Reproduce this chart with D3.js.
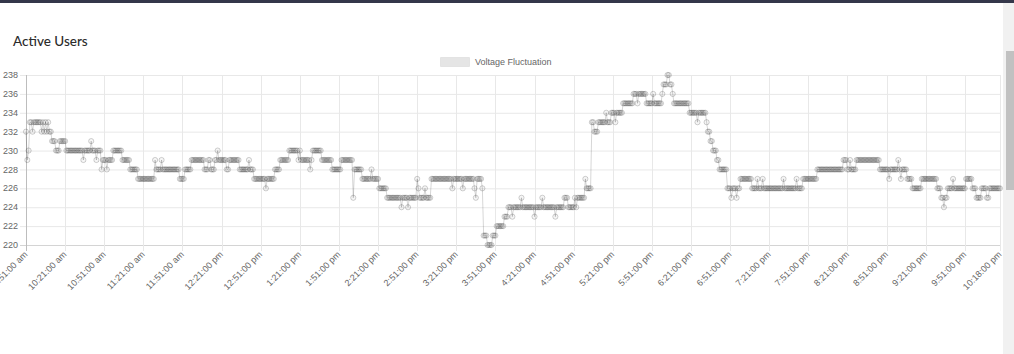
<!DOCTYPE html>
<html>
<head>
<meta charset="utf-8">
<script src="https://cdn.jsdelivr.net/npm/d3@7"></script>
<style>
  body { margin: 0; background: #fff; overflow: hidden; }
  svg { display: block; }
</style>
</head>
<body>
<svg id="chart" width="1014" height="354"></svg>
<script>
// Data
const TITLE = 'Active Users';
const SERIES_NAME = 'Voltage Fluctuation';
const START_TIME = '9:51:00 am';
const POINT_COUNT = 748; // one reading per minute, 9:51 am .. 10:18 pm

const yTicks = [220, 222, 224, 226, 228, 230, 232, 234, 236, 238];

const tickLabels = [
  '9:51:00 am', '10:21:00 am', '10:51:00 am', '11:21:00 am', '11:51:00 am',
  '12:21:00 pm', '12:51:00 pm', '1:21:00 pm', '1:51:00 pm', '2:21:00 pm',
  '2:51:00 pm', '3:21:00 pm', '3:51:00 pm', '4:21:00 pm', '4:51:00 pm',
  '5:21:00 pm', '5:51:00 pm', '6:21:00 pm', '6:51:00 pm', '7:21:00 pm',
  '7:51:00 pm', '8:21:00 pm', '8:51:00 pm', '9:21:00 pm', '9:51:00 pm',
  '10:18:00 pm'
];

// [minute index where the reading changes, new reading]
const voltageChanges = [
  [0,232],[1,229],[2,230],[3,233],[5,232],[6,233],[12,232],[13,233],[14,232],[15,233],
  [16,232],[17,233],[18,232],[20,231],[23,230],[26,231],[31,230],[44,229],[45,230],[50,231],
  [51,230],[54,229],[55,230],[58,228],[59,229],[62,228],[63,229],[67,230],[74,229],[80,228],
  [86,227],[99,229],[100,228],[104,229],[105,228],[118,227],[122,228],[127,229],[137,228],[140,229],
  [142,228],[145,229],[147,230],[148,229],[154,228],[156,229],[164,228],[171,229],[172,228],[175,227],
  [184,226],[185,227],[191,228],[195,229],[202,230],[209,229],[210,230],[211,229],[218,228],[219,229],
  [220,230],[227,229],[235,228],[242,229],[251,225],[252,228],[258,227],[265,228],[266,227],[271,226],
  [277,225],[288,224],[289,225],[293,224],[294,225],[300,227],[301,226],[302,225],[306,226],[307,225],
  [311,227],[327,226],[328,227],[335,226],[336,227],[344,226],[345,225],[346,227],[350,226],[351,221],
  [354,220],[358,221],[361,222],[367,223],[370,224],[373,223],[374,224],[380,225],[381,224],[390,223],
  [391,224],[396,225],[397,224],[406,223],[407,224],[413,225],[416,224],[421,225],[422,224],[423,225],
  [429,227],[430,226],[434,233],[436,232],[439,233],[445,234],[446,233],[449,234],[452,233],[453,234],
  [458,235],[466,236],[469,235],[470,236],[476,235],[481,236],[482,235],[488,236],[489,237],[492,238],
  [494,237],[496,236],[497,235],[509,234],[515,233],[516,234],[522,233],[523,232],[525,231],[527,230],
  [530,229],[532,228],[538,226],[541,225],[542,226],[545,225],[546,226],[548,227],[557,226],[561,227],
  [562,226],[565,227],[566,226],[581,227],[582,226],[591,227],[592,226],[596,227],[607,228],[627,229],
  [630,228],[632,229],[633,228],[637,229],[655,228],[662,227],[663,228],[669,229],[670,228],[671,227],
  [672,228],[676,227],[680,226],[687,227],[699,226],[702,225],[704,224],[705,225],[707,226],[711,227],
  [712,226],[721,227],[726,226],[729,225],[733,226],[737,225],[739,226]
];

// Build per-minute points
const parseTime = d3.timeParse('%I:%M:%S %p');
const fmtTime = d3.timeFormat('%-I:%M:%S %p');
const t0 = parseTime(START_TIME);
const points = [];
let k = 0;
for (let i = 0; i < POINT_COUNT; i++) {
  while (k + 1 < voltageChanges.length && voltageChanges[k + 1][0] <= i) k++;
  points.push({
    label: fmtTime(d3.timeMinute.offset(t0, i)).toLowerCase(),
    value: voltageChanges[k][1]
  });
}

// Layout
const W = 1014, H = 354;
const MARGIN = { top: 75, right: 14, bottom: 109, left: 26 };

const svg = d3.select('#chart');

// top bar + scrollbar chrome
svg.append('rect').attr('x', 0).attr('y', 0).attr('width', W).attr('height', 3).attr('fill', '#34374a');
svg.append('rect').attr('x', 1003).attr('y', 3).attr('width', 11).attr('height', H - 3).attr('fill', '#f1f1f1');
svg.append('rect').attr('x', 1006).attr('y', 51).attr('width', 8).attr('height', 139).attr('fill', '#c1c1c1');

// title
svg.append('text')
  .attr('x', 13).attr('y', 46)
  .attr('font-family', 'Lato, "Noto Sans", sans-serif')
  .attr('font-size', 13.5)
  .attr('font-weight', 500)
  .attr('fill', '#2b2b2b')
  .text(TITLE);

const x = d3.scalePoint()
  .domain(points.map(d => d.label))
  .range([MARGIN.left, W - MARGIN.right]);

const y = d3.scaleLinear()
  .domain([220, 238])
  .range([H - MARGIN.bottom, MARGIN.top]);

const FONT = '"Liberation Sans", Arial, sans-serif';

// horizontal grid + y labels
const gy = svg.append('g');
gy.selectAll('line')
  .data(yTicks)
  .join('line')
  .attr('x1', MARGIN.left - 6).attr('x2', W - MARGIN.right)
  .attr('y1', d => y(d) + 0.5).attr('y2', d => y(d) + 0.5)
  .attr('stroke', d => d === 220 ? '#d4d4d4' : '#e8e8e8');
gy.selectAll('text')
  .data(yTicks)
  .join('text')
  .attr('x', MARGIN.left - 8)
  .attr('y', d => y(d))
  .attr('dy', '0.35em')
  .attr('text-anchor', 'end')
  .attr('font-family', FONT)
  .attr('font-size', 9)
  .attr('fill', '#666')
  .text(d => d);

// vertical grid + x labels
const gx = svg.append('g');
gx.selectAll('line')
  .data(tickLabels)
  .join('line')
  .attr('x1', d => Math.round(x(d)) + 0.5).attr('x2', d => Math.round(x(d)) + 0.5)
  .attr('y1', MARGIN.top).attr('y2', H - MARGIN.bottom + 6)
  .attr('stroke', (d, i) => i === 0 ? '#bdbdbd' : '#e8e8e8');
gx.selectAll('text')
  .data(tickLabels)
  .join('text')
  .attr('transform', d => `translate(${x(d) + 2},${H - MARGIN.bottom + 10}) rotate(-45)`)
  .attr('text-anchor', 'end')
  .attr('font-family', FONT)
  .attr('font-size', 9)
  .attr('fill', '#666')
  .text(d => d);

// legend
const lg = svg.append('g');
lg.append('rect')
  .attr('x', 440.5).attr('y', 57.5).attr('width', 29).attr('height', 9)
  .attr('fill', 'rgba(0,0,0,0.1)').attr('stroke', 'rgba(0,0,0,0.06)');
lg.append('text')
  .attr('x', 475).attr('y', 62)
  .attr('dy', '0.35em')
  .attr('font-family', FONT)
  .attr('font-size', 9)
  .attr('fill', '#666')
  .text(SERIES_NAME);

// line + points
const line = d3.line()
  .x(d => x(d.label))
  .y(d => y(d.value));

svg.append('path')
  .datum(points)
  .attr('fill', 'none')
  .attr('stroke', 'rgba(0,0,0,0.16)')
  .attr('stroke-width', 1)
  .attr('d', line);

svg.append('g')
  .selectAll('circle')
  .data(points)
  .join('circle')
  .attr('cx', d => x(d.label))
  .attr('cy', d => y(d.value))
  .attr('r', 2.6)
  .attr('fill', 'rgba(0,0,0,0.04)')
  .attr('stroke', 'rgba(0,0,0,0.2)')
  .attr('stroke-width', 0.9);
</script>
</body>
</html>
